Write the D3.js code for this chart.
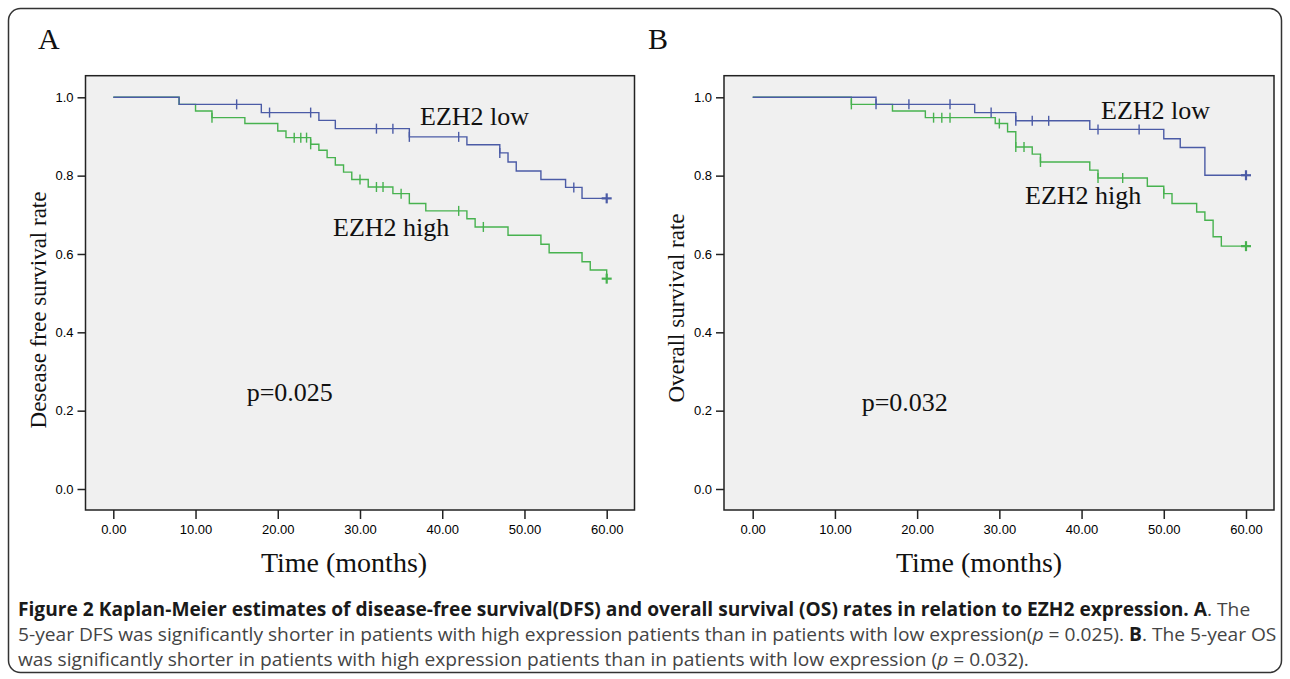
<!DOCTYPE html>
<meta charset="utf-8">
<head>
    <title>Figure 2</title>
    <script src="https://cdn.jsdelivr.net/npm/d3@7/dist/d3.min.js"></script>
</head>

<style>
    body{ margin:0; background:#fff; }
    text{ font-family:"Liberation Sans", Arial, sans-serif; }
    .serif{ font-family:"Liberation Serif", "Times New Roman", serif; }
    .cap{ font-family:"Liberation Sans Narrow", "Open Sans", sans-serif; font-size:19px; }
</style>

<svg width="1290" height="679"></svg>

<script>
    // axis ticks
    var timeTicks = [0,10,20,30,40,50,60],
        rateTicks = [0,0.2,0.4,0.6,0.8,1.0];

    // A: disease free survival, EZH2 low
    var dfsLowT = [0, 8, 18, 25, 27, 36, 43, 47, 48, 49, 52, 55, 57],
        dfsLowS = [1, 0.982, 0.961, 0.941, 0.920, 0.899, 0.879, 0.858, 0.835, 0.812, 0.790, 0.770, 0.742],
        dfsLowCens = [15, 19, 24, 32, 34, 36, 42, 47, 56, 60];

    // A: disease free survival, EZH2 high
    var dfsHighT = [0, 8, 10, 12, 16, 20, 21, 24, 25, 26, 27, 28, 29, 31, 34, 36, 38, 43, 44, 48, 52, 53, 57, 58, 60],
        dfsHighS = [1, 0.982, 0.965, 0.948, 0.933, 0.914, 0.897, 0.880, 0.865, 0.846, 0.827, 0.809, 0.790, 0.771, 0.754, 0.729, 0.710, 0.690, 0.669, 0.648, 0.625, 0.603, 0.580, 0.559, 0.537],
        dfsHighCens = [12, 22, 22.8, 23.5, 24, 30, 32, 32.8, 35, 42, 45, 60];

    // B: overall survival, EZH2 low
    var osLowT = [0, 15, 27, 32, 41, 50, 52, 55],
        osLowS = [1, 0.982, 0.961, 0.940, 0.918, 0.894, 0.872, 0.801],
        osLowCens = [15, 19, 24, 29, 32, 34, 36, 42, 47, 60];

    // B: overall survival, EZH2 high
    var osHighT = [0, 12, 17, 21, 29.5, 31, 32, 34, 35, 41, 42, 48, 50, 51, 54, 55, 56, 57],
        osHighS = [1, 0.982, 0.965, 0.948, 0.933, 0.912, 0.873, 0.855, 0.835, 0.814, 0.794, 0.773, 0.754, 0.729, 0.707, 0.686, 0.644, 0.620],
        osHighCens = [12, 22, 23, 24, 30, 32, 33, 35, 42, 45, 50, 60];

    var blue = '#4b5ba6',
        green = '#47b24f',
        frameTop = 75.7, frameBottom = 510;

    var svg = d3.select('svg');

    // outer rounded border
    svg.append('rect')
        .attr('x', 8.5).attr('y', 8.5)
        .attr('width', 1273).attr('height', 664)
        .attr('rx', 12)
        .style('fill', 'none').style('stroke', '#333').style('stroke-width', 1.5);

    var panels = [
        {letter:'A', lx:38, left:85.5, right:634.5, x0:113.3, x60:606.7,
         ytitle:'Desease free survival rate', ytx:38, yty:310, ttx:344,
         low:[dfsLowT, dfsLowS, dfsLowCens], high:[dfsHighT, dfsHighS, dfsHighCens],
         lowLab:[420, 125], highLab:[333, 236], p:'p=0.025', pPos:[246.7, 400.7]},
        {letter:'B', lx:648, left:724, right:1274, x0:752.7, x60:1246,
         ytitle:'Overall survival rate', ytx:676, yty:308, ttx:979,
         low:[osLowT, osLowS, osLowCens], high:[osHighT, osHighS, osHighCens],
         lowLab:[1101, 119.3], highLab:[1025, 204], p:'p=0.032', pPos:[861.7, 410.7]}
    ];

    function survAt(T, S, c){
        var v = S[0];
        T.forEach(function(t,i){ if(t <= c) v = S[i]; });
        return v;
    }

    panels.forEach(function(p){
        var g = svg.append('g');
        var x = d3.scaleLinear().domain([0,60]).range([p.x0, p.x60]),
            y = d3.scaleLinear().domain([0,1]).range([489, 97.3]);

        g.append('text').attr('class','serif')
            .attr('x', p.lx).attr('y', 49)
            .style('font-size','30px').style('fill','#111')
            .text(p.letter);

        g.append('rect')
            .attr('x', p.left).attr('y', frameTop)
            .attr('width', p.right - p.left).attr('height', frameBottom - frameTop)
            .style('fill','#f0f0f0').style('stroke','#222').style('stroke-width',1.5);

        var yAxis = g.append('g')
            .attr('transform','translate('+p.left+',0)')
            .call(d3.axisLeft(y).tickValues(rateTicks).tickFormat(d3.format('.1f')).tickSize(8).tickPadding(4));
        var xAxis = g.append('g')
            .attr('transform','translate(0,'+frameBottom+')')
            .call(d3.axisBottom(x).tickValues(timeTicks).tickFormat(d3.format('.2f')).tickSize(9).tickPadding(6));
        [yAxis, xAxis].forEach(function(a){
            a.select('.domain').remove();
            a.selectAll('line').style('stroke','#222').style('stroke-width',1.5);
            a.selectAll('text').style('font-size','13px').style('fill','#000').style('font-family','"Liberation Sans", Arial, sans-serif');
        });

        g.append('text').attr('class','serif')
            .attr('transform','translate('+p.ytx+','+p.yty+') rotate(-90)')
            .attr('text-anchor','middle').attr('dy','0.35em')
            .style('font-size','23px').style('fill','#111')
            .text(p.ytitle);

        g.append('text').attr('class','serif')
            .attr('x', p.ttx).attr('y', 572)
            .attr('text-anchor','middle')
            .style('font-size','28px').style('fill','#111')
            .text('Time (months)');

        var line = d3.line()
            .x(function(d){ return x(d[0]); })
            .y(function(d){ return y(d[1]); })
            .curve(d3.curveStepAfter);

        [[p.high, green], [p.low, blue]].forEach(function(c){
            var T = c[0][0], S = c[0][1], C = c[0][2];
            var pts = T.map(function(t,i){ return [t, S[i]]; });
            if(T[T.length-1] < 60) pts.push([60, S[S.length-1]]);

            g.append('path').datum(pts)
                .attr('d', line)
                .style('fill','none').style('stroke', c[1]).style('stroke-width',1.4);

            var marks = g.append('g').selectAll('g').data(C).enter().append('g')
                .attr('transform', function(d){ return 'translate('+x(d)+','+y(survAt(T,S,d))+')'; });
            marks.append('line')
                .attr('x1',0).attr('x2',0).attr('y1',-5).attr('y2',5)
                .style('stroke', c[1]).style('stroke-width', function(d){ return d == 60 ? 2.2 : 1.4; });
            marks.filter(function(d){ return d == 60; }).append('line')
                .attr('x1',-5).attr('x2',5).attr('y1',0).attr('y2',0)
                .style('stroke', c[1]).style('stroke-width', 2.2);
        });

        g.append('text').attr('class','serif')
            .attr('x', p.lowLab[0]).attr('y', p.lowLab[1])
            .style('font-size','26px').style('fill','#111')
            .text('EZH2 low');
        g.append('text').attr('class','serif')
            .attr('x', p.highLab[0]).attr('y', p.highLab[1])
            .style('font-size','26px').style('fill','#111')
            .text('EZH2 high');
        g.append('text').attr('class','serif')
            .attr('x', p.pPos[0]).attr('y', p.pPos[1])
            .style('font-size','26px').style('fill','#111')
            .text(p.p);
    });

    // caption
    var capLines = [
        [['Figure 2 Kaplan-Meier estimates of disease-free survival(DFS) and overall survival (OS) rates in relation to EZH2 expression. A','b'], ['. The','']],
        [['5-year DFS was significantly shorter in patients with high expression patients than in patients with low expression(',''], ['p','i'], [' = 0.025). ',''], ['B','b'], ['. The 5-year OS','']],
        [['was significantly shorter in patients with high expression patients than in patients with low expression (',''], ['p','i'], [' = 0.032).','']]
    ];
    var capY = [616, 641, 666];

    var capG = capLines.map(function(parts, i){
        var cg = svg.append('g').attr('transform','translate(18,'+capY[i]+')');
        var t = cg.append('text').attr('class','cap');
        parts.forEach(function(pt){
            t.append('tspan').text(pt[0])
                .style('font-weight', pt[1] == 'b' ? 'bold' : 'normal')
                .style('font-style', pt[1] == 'i' ? 'italic' : 'normal')
                .style('fill', pt[1] == 'b' ? '#1a1a1a' : '#444');
        });
        return cg;
    });
    var w1 = capG[0].select('text').node().getComputedTextLength(),
        w2 = capG[1].select('text').node().getComputedTextLength(),
        k = ((1246 / w1) + (1246 / w2)) / 2;
    capG.forEach(function(cg, i){
        cg.attr('transform','translate(18,'+capY[i]+') scale('+k+',1)');
    });
</script>
